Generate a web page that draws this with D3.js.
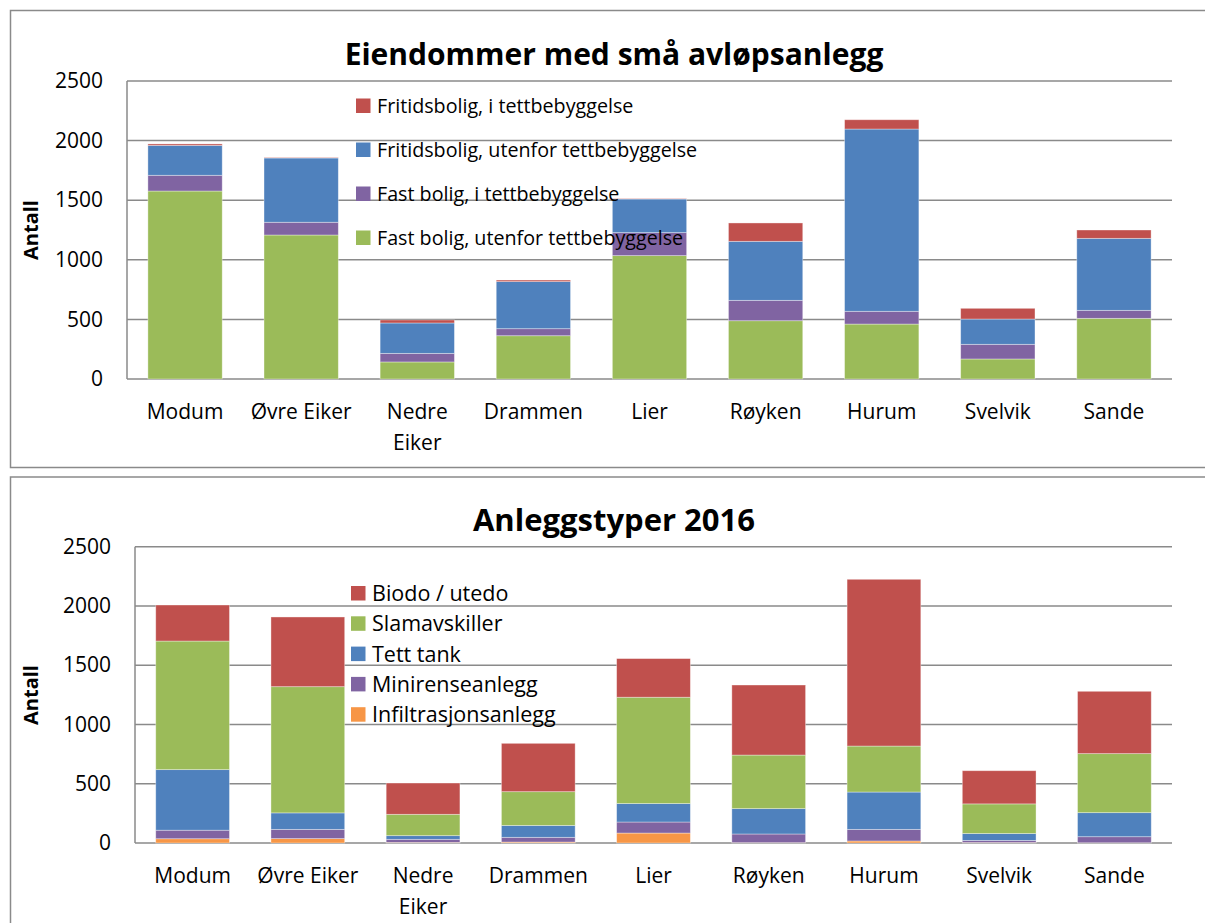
<!DOCTYPE html>
<html>
<head>
<meta charset="utf-8">
<script src="https://cdn.jsdelivr.net/npm/d3@7"></script>
<style>
  html, body { margin: 0; padding: 0; background: #fff; }
  svg { display: block; font-family: "Open Sans", "Noto Sans", sans-serif; }
</style>
</head>
<body>
<svg id="chart" width="1205" height="923"></svg>
<script>
// ---------- DATA ----------
const categories = ["Modum", "Øvre Eiker", "Nedre Eiker", "Drammen", "Lier", "Røyken", "Hurum", "Svelvik", "Sande"];
const yTicks = [0, 500, 1000, 1500, 2000, 2500];

// Chart 1: Eiendommer med små avløpsanlegg (stack order bottom -> top)
const seriesNames1 = ["Fast bolig, utenfor tettbebyggelse", "Fast bolig, i tettbebyggelse", "Fritidsbolig, utenfor tettbebyggelse", "Fritidsbolig, i tettbebyggelse"];
const fastUtenfor   = [1577, 1208, 143, 363, 1035, 489, 461, 168, 509];
const fastI         = [132, 107, 72, 59, 193, 171, 107, 123, 67];
const fritidUtenfor = [251, 539, 255, 395, 282, 495, 1529, 212, 604];
const fritidI       = [12, 4, 25, 13, 3, 154, 78, 90, 70];
const title1 = "Eiendommer med små avløpsanlegg";

// Chart 2: Anleggstyper 2016 (stack order bottom -> top)
const seriesNames2 = ["Infiltrasjonsanlegg", "Minirenseanlegg", "Tett tank", "Slamavskiller", "Biodo / utedo"];
const infiltrasjon = [36, 37, 5, 8, 84, 3, 17, 4, 2];
const minirense    = [72, 78, 26, 40, 93, 73, 98, 18, 51];
const tettTank     = [511, 139, 31, 100, 156, 214, 315, 58, 203];
const slamavskiller= [1085, 1065, 180, 285, 897, 452, 388, 250, 498];
const biodo        = [304, 588, 264, 408, 326, 591, 1407, 280, 526];
const title2 = "Anleggstyper 2016";

const yLabel = "Antall";

// ---------- STYLE ----------
const C = { green: "#9BBB59", purple: "#8064A2", blue: "#4F81BD", red: "#C0504D", orange: "#F79646" };
const colors1 = [C.green, C.purple, C.blue, C.red];
const colors2 = [C.orange, C.purple, C.blue, C.green, C.red];
const gridColor = "#8a8a8a";

const svg = d3.select("#chart");

// Frames
svg.append("rect").attr("x", 10.5).attr("y", 10.5).attr("width", 1210).attr("height", 457)
  .attr("fill", "none").attr("stroke", gridColor).attr("stroke-width", 1.5);
svg.append("rect").attr("x", 10.5).attr("y", 477).attr("width", 1210).attr("height", 470)
  .attr("fill", "none").attr("stroke", gridColor).attr("stroke-width", 1.5);

function drawChart(cfg) {
  const { left, right, top, bottom, title, titleY, titleFont, names, arrays, colors, legendX, legendY0, legendStep, legendReverse, legendFont, antallY } = cfg;
  const rows = categories.map((c, i) => {
    const o = { cat: c };
    names.forEach((n, k) => { o[n] = arrays[k][i]; });
    return o;
  });
  const x = d3.scaleBand().domain(categories).range([left, right]).paddingInner(0.36).paddingOuter(0.18);
  const y = d3.scaleLinear().domain([0, 2500]).range([bottom, top]);
  const g = svg.append("g");

  // gridlines
  g.selectAll("line.grid").data(yTicks).join("line")
    .attr("x1", left).attr("x2", right)
    .attr("y1", d => y(d)).attr("y2", d => y(d))
    .attr("stroke", gridColor).attr("stroke-width", 1.5);
  // left axis line
  g.append("line").attr("x1", left).attr("x2", left).attr("y1", top).attr("y2", bottom)
    .attr("stroke", gridColor).attr("stroke-width", 1.5);

  // y tick labels via axis
  const yAxis = g.append("g").attr("transform", `translate(${left - 24},0)`)
    .call(d3.axisLeft(y).tickValues(yTicks).tickFormat(d3.format("d")).tickSize(0).tickPadding(0));
  yAxis.select(".domain").remove();
  yAxis.selectAll("text").attr("font-size", 21).attr("fill", "#000")
    .attr("font-family", "'Open Sans', sans-serif");

  // bars
  const stack = d3.stack().keys(names)(rows);
  stack.forEach((layer, k) => {
    g.append("g").selectAll("rect").data(layer).join("rect")
      .attr("x", d => x(d.data.cat))
      .attr("width", x.bandwidth())
      .attr("y", d => y(d[1]))
      .attr("height", d => Math.max(0, y(d[0]) - y(d[1])))
      .attr("fill", colors[k])
      .attr("stroke", "rgba(255,255,255,0.45)").attr("stroke-width", 0.8);
  });

  // x labels via axis
  const xAxis = g.append("g").attr("transform", `translate(0,${bottom})`)
    .call(d3.axisBottom(x).tickSize(0).tickPadding(0));
  xAxis.select(".domain").remove();
  xAxis.selectAll("text").attr("font-size", 21).attr("fill", "#000")
    .attr("font-family", "'Open Sans', sans-serif")
    .attr("dy", null).attr("y", 0)
    .each(function(d) {
      const t = d3.select(this);
      t.text(null);
      const parts = d === "Nedre Eiker" ? ["Nedre", "Eiker"] : [d];
      parts.forEach((p, i) => {
        t.append("tspan").attr("x", 0).attr("y", 40 + i * 31).text(p);
      });
    });

  // title
  svg.append("text").attr("x", 614).attr("y", titleY).attr("text-anchor", "middle")
    .attr("font-size", titleFont).attr("font-weight", "bold").attr("fill", "#000").text(title);

  // y label
  svg.append("text").attr("transform", `translate(38,${antallY}) rotate(-90)`)
    .attr("text-anchor", "middle").attr("font-size", 20).attr("font-weight", "bold").attr("fill", "#000").text(yLabel);

  // legend
  const order = legendReverse ? names.map((n, k) => k).reverse() : names.map((n, k) => k);
  const leg = svg.append("g");
  order.forEach((k, i) => {
    const cy = legendY0 + i * legendStep;
    leg.append("rect").attr("x", legendX).attr("y", cy - 7.5).attr("width", 14.5).attr("height", 14.5).attr("fill", colors[k]);
    leg.append("text").attr("x", legendX + 21).attr("y", cy).attr("dy", "0.35em")
      .attr("font-size", legendFont).attr("fill", "#000").text(names[k]);
  });
}

drawChart({
  left: 127, right: 1172, top: 81, bottom: 379,
  title: title1, titleY: 65, titleFont: 30,
  names: seriesNames1, arrays: [fastUtenfor, fastI, fritidUtenfor, fritidI], colors: colors1,
  legendX: 356, legendY0: 106, legendStep: 44, legendReverse: true, legendFont: 19.7, antallY: 230
});
drawChart({
  left: 135, right: 1172, top: 546.7, bottom: 843,
  title: title2, titleY: 531, titleFont: 31,
  names: seriesNames2, arrays: [infiltrasjon, minirense, tettTank, slamavskiller, biodo], colors: colors2,
  legendX: 351, legendY0: 593.5, legendStep: 30.3, legendReverse: true, legendFont: 21.5, antallY: 695
});
</script>
</body>
</html>
